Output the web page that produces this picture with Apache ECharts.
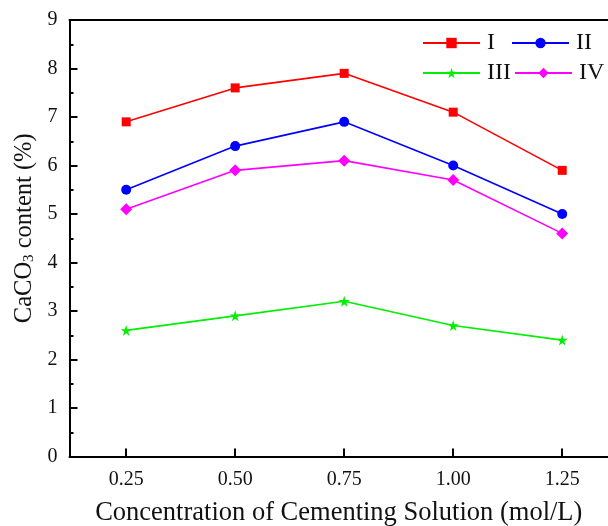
<!DOCTYPE html>
<html>
<head>
<meta charset="utf-8">
<script src="https://cdn.jsdelivr.net/npm/echarts@6/dist/echarts.min.js"></script>
<style>
  html, body { margin: 0; padding: 0; background: #fff; }
  #main { width: 608px; height: 526px; }
</style>
</head>
<body>
<div id="main"></div>
<script>
// concentration of cementing solution (mol/L)
const concentration = [0.25, 0.5, 0.75, 1.0, 1.25];
const tickLabels = ['0.25', '0.50', '0.75', '1.00', '1.25'];
// CaCO3 content (%)
const seriesI = [6.9, 7.6, 7.9, 7.1, 5.9];
const seriesII = [5.5, 6.4, 6.9, 6.0, 5.0];
const seriesIII = [2.6, 2.9, 3.2, 2.7, 2.4];
const seriesIV = [5.1, 5.9, 6.1, 5.7, 4.6];
const yTicks = [0, 1, 2, 3, 4, 5, 6, 7, 8, 9];

const starPath = 'path://M50,0 L61,35 L98,35 L68,57 L79,91 L50,70 L21,91 L32,57 L2,35 L39,35 Z';
const serif = '"Liberation Serif", "Times New Roman", serif';

function pairs(vals) {
  return concentration.map(function (c, i) {
    return [c, vals[i]];
  });
}

function makeSeries(name, vals, color, symbol, size) {
  return {
    name: name,
    type: 'line',
    data: pairs(vals),
    symbol: symbol,
    symbolSize: size,
    color: color,
    lineStyle: { width: 1.6, color: color },
    itemStyle: { color: color },
    z: 3
  };
}

function makeLegend(name, left, top) {
  return {
    data: [name],
    left: left,
    top: top,
    itemWidth: 57,
    itemHeight: 13,
    itemGap: 0,
    padding: 0,
    textStyle: { fontFamily: serif, fontSize: 24, color: '#111', padding: [0, 0, 0, 2] }
  };
}

let chart = echarts.init(document.getElementById('main'), null, { renderer: 'canvas' });
chart.setOption({
  backgroundColor: '#fff',
  animation: false,
  grid: {
    left: 69.5,
    top: 20,
    width: 538.5,
    height: 436.5,
    containLabel: false,
    outerBoundsMode: 'none'
  },
  legend: [
    makeLegend('I', 422, 31),
    makeLegend('II', 511, 31),
    makeLegend('III', 422, 61),
    makeLegend('IV', 514, 61)
  ],
  xAxis: [
    {
      type: 'value',
      min: 0.12,
      max: 1.355,
      name: 'Concentration of Cementing Solution (mol/L)',
      nameLocation: 'middle',
      nameGap: 43,
      nameTextStyle: { fontFamily: serif, fontSize: 26.5, color: '#111' },
      splitLine: { show: false },
      axisLine: { lineStyle: { color: '#000', width: 2 } },
      axisTick: {
        inside: true,
        length: 8,
        customValues: concentration,
        lineStyle: { color: '#000', width: 2 }
      },
      axisLabel: {
        customValues: concentration,
        margin: 13,
        fontFamily: serif,
        fontSize: 20,
        color: '#111',
        formatter: function (v) {
          let i = concentration.indexOf(v);
          return i >= 0 ? tickLabels[i] : '';
        }
      }
    },
    {
      // top frame line
      type: 'value',
      position: 'top',
      min: 0.12,
      max: 1.355,
      axisLine: { show: true, lineStyle: { color: '#000', width: 2 } },
      axisTick: { show: false },
      axisLabel: { show: false },
      splitLine: { show: false }
    }
  ],
  yAxis: {
    type: 'value',
    min: 0,
    max: 9,
    interval: 1,
    name: '{a|CaCO}{s|3}{a| content (%)}',
    nameLocation: 'middle',
    nameGap: 32,
    nameRotate: 90,
    nameTextStyle: {
      padding: [0, 0, 0, 20],
      rich: {
        a: { fontFamily: serif, fontSize: 24.5, color: '#111' },
        s: { fontFamily: serif, fontSize: 15, color: '#111', padding: [10, 0, 0, 0] }
      }
    },
    splitLine: { show: false },
    axisLine: { lineStyle: { color: '#000', width: 2 } },
    axisTick: { inside: true, length: 8, lineStyle: { color: '#000', width: 2 } },
    minorTick: { show: true, splitNumber: 2, length: 4, lineStyle: { color: '#000', width: 2 } },
    axisLabel: {
      customValues: yTicks,
      margin: 12,
      fontFamily: serif,
      fontSize: 20,
      color: '#111'
    }
  },
  series: [
    makeSeries('I', seriesI, '#ff0000', 'rect', 9),
    makeSeries('II', seriesII, '#0000ff', 'circle', 10),
    makeSeries('III', seriesIII, '#00ee00', starPath, 11),
    makeSeries('IV', seriesIV, '#ff00ff', 'diamond', 12)
  ]
});
</script>
</body>
</html>
